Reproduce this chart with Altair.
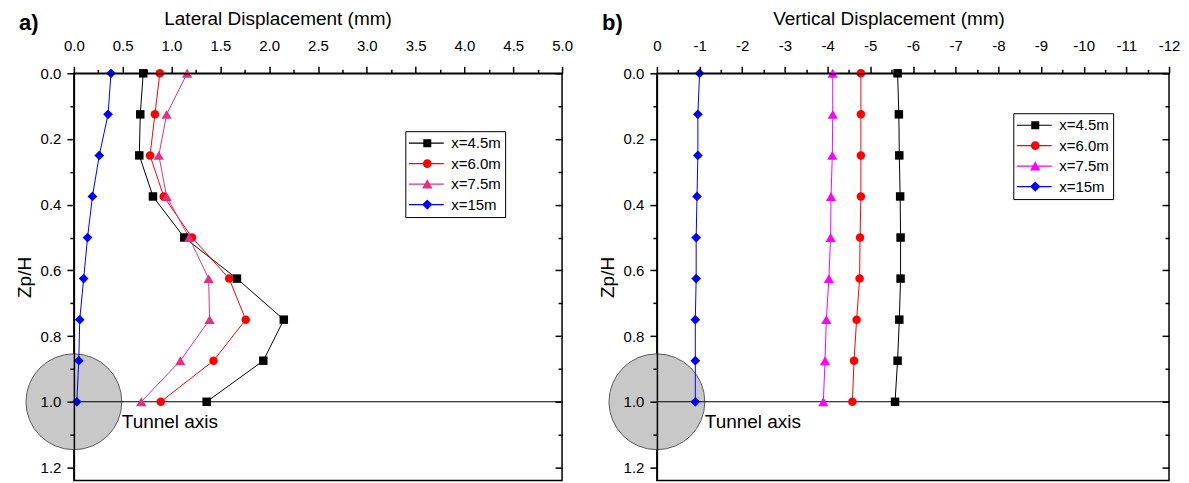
import altair as alt
import pandas as pd
import numpy as np

FONT = "Liberation Sans"

# ---------------- data ----------------
z = [0.0, 0.125, 0.25, 0.375, 0.5, 0.625, 0.75, 0.875, 1.0]
series = ["x=4.5m", "x=6.0m", "x=7.5m", "x=15m"]

# a) lateral displacement (mm)
lat_45 = [0.71, 0.68, 0.67, 0.81, 1.13, 1.67, 2.15, 1.94, 1.36]
lat_60 = [0.88, 0.83, 0.78, 0.92, 1.21, 1.59, 1.76, 1.43, 0.89]
lat_75 = [1.16, 0.95, 0.87, 0.95, 1.18, 1.38, 1.39, 1.09, 0.69]
lat_15 = [0.38, 0.35, 0.26, 0.19, 0.14, 0.10, 0.06, 0.05, 0.03]

# b) vertical displacement (mm)
ver_45 = [-5.64, -5.67, -5.68, -5.70, -5.71, -5.71, -5.68, -5.64, -5.58]
ver_60 = [-4.78, -4.78, -4.78, -4.78, -4.76, -4.75, -4.68, -4.62, -4.58]
ver_75 = [-4.12, -4.12, -4.11, -4.08, -4.07, -4.03, -3.97, -3.94, -3.90]
ver_15 = [-1.00, -0.96, -0.96, -0.94, -0.92, -0.92, -0.90, -0.90, -0.90]

tunnel_x = [0.0]
tunnel_z = [1.0]
tunnel_label = ["Tunnel axis"]

left_ticks = [float(round(v, 2)) for v in np.arange(0, 5.001, 0.25)]
right_ticks = [float(round(-v, 1)) for v in np.arange(0, 12.001, 0.5)]
y_ticks = [float(round(v, 1)) for v in np.arange(0, 1.201, 0.1)]

colors_a = ["#000000", "#FF0000", "#E5307E", "#0000FF"]
colors_b = ["#000000", "#FF0000", "#FF00FF", "#0000FF"]
plot_shapes = ["square", "circle", "triangle-up", "diamond"]
plot_sizes = [72, 72, 105, 95]

# legend symbols: line segment + marker (unit = sqrt(symbolSize)/2 px)
LINE = "M-1.06,-0.07L3.31,-0.07L3.31,0.07L-1.06,0.07Z"
legend_paths = [
    LINE + "M0.75,-0.5L1.75,-0.5L1.75,0.5L0.75,0.5Z",
    LINE + "M0.7,0A0.55,0.55 0 1,1 1.8,0A0.55,0.55 0 1,1 0.7,0Z",
    LINE + "M1.25,-0.6L1.9,0.55L0.6,0.55Z",
    LINE + "M0.6,0L1.25,-0.65L1.9,0L1.25,0.65Z",
]

YMAX = 1.24
HEIGHT = 408


def make_panel(vals_list, colors, xdomain, xvals, minor_x_test, x_label_expr,
               xtitle, title_x, letter, legend_x, legend_y, width):
    rows = []
    for s, vals in zip(series, vals_list):
        for zz, v in zip(z, vals):
            rows.append({"series": s, "d": v, "z": zz})
    df = pd.DataFrame(rows)
    tun = pd.DataFrame({"d": tunnel_x, "z": tunnel_z, "label": tunnel_label})

    xscale = alt.Scale(domain=xdomain, nice=False, zero=False)
    yscale = alt.Scale(domain=[0, YMAX], nice=False, zero=False, reverse=True)

    minor_y_test = "round(datum.value*10) % 2 != 0"

    x_axis = alt.Axis(
        orient="top", values=xvals, labelExpr=x_label_expr, title=xtitle,
        tickSize=7, labelPadding=13, titlePadding=10, titleX=title_x,
        tickDash={"condition": {"test": minor_x_test, "value": [4, 10]}, "value": [10, 0]},
        labelFlush=False, labelOverlap=False, zindex=1,
    )
    y_axis = alt.Axis(
        orient="left", values=y_ticks,
        labelExpr="round(datum.value*10) % 2 == 0 ? format(datum.value, '.1f') : ''",
        title="Zp/H", tickSize=7, labelPadding=6, titlePadding=6,
        tickDash={"condition": {"test": minor_y_test, "value": [4, 10]}, "value": [10, 0]},
        labelFlush=False, labelOverlap=False, zindex=1,
    )
    y_axis_right = alt.Axis(
        orient="right", values=y_ticks, labels=False, domain=False, title=None,
        tickSize=7, offset=-7, zindex=1,
        tickDash={"condition": {"test": minor_y_test, "value": [0, 3, 4]}, "value": [10, 0]},
    )

    X = alt.X("d:Q", scale=xscale, axis=x_axis)
    Y = lambda ax: alt.Y("z:Q", scale=yscale, axis=ax)

    circle = alt.Chart(tun).mark_point(
        shape="circle", filled=True, size=9216, fill="#c8c8c8",
        stroke="#5a5a5a", strokeWidth=1, opacity=1,
    ).encode(x=X, y=Y(y_axis))

    rule = alt.Chart(tun).mark_rule(color="black", strokeWidth=1.2).encode(
        x=alt.value(0), x2=alt.value(width), y=Y(y_axis_right)
    )

    layers = [circle, rule]
    for s, c in zip(series, colors):
        sub = df[df["series"] == s]
        layers.append(
            alt.Chart(sub).mark_line(color=c, strokeWidth=1).encode(
                x=X, y=Y(None), order="z:Q"
            )
        )
    for s, c, shp, sz in zip(series, colors, plot_shapes, plot_sizes):
        sub = df[df["series"] == s]
        layers.append(
            alt.Chart(sub).mark_point(
                shape=shp, filled=True, size=sz, color=c, opacity=1
            ).encode(x=X, y=Y(None))
        )

    tunnel_text = alt.Chart(tun).mark_text(
        align="left", baseline="middle", dx=48, dy=20, fontSize=19,
        font=FONT, color="black",
    ).encode(x=X, y=Y(None), text="label:N")
    layers.append(tunnel_text)

    letter_text = alt.Chart(tun).mark_text(
        text=letter, align="left", baseline="top", fontSize=22,
        fontWeight="bold", font=FONT, color="black",
    ).encode(x=alt.value(-55), y=alt.value(-60))
    layers.append(letter_text)

    leg = alt.Legend(
        orient="none", legendX=legend_x, legendY=legend_y, title=None,
        labelFont=FONT, labelFontSize=15, labelColor="black",
        symbolSize=256, symbolStrokeWidth=0, labelOffset=26,
        padding=4, rowPadding=4.5, strokeColor="black", fillColor="white",
    )
    legend_layer = alt.Chart(df).transform_filter("false").mark_point(
        filled=True, opacity=1
    ).encode(
        x=X, y=Y(None),
        color=alt.Color("series:N", scale=alt.Scale(domain=series, range=colors), legend=leg),
        shape=alt.Shape("series:N", scale=alt.Scale(domain=series, range=legend_paths), legend=leg),
    )
    layers.append(legend_layer)

    return alt.layer(*layers).resolve_axis(y="independent").properties(
        width=width, height=HEIGHT
    )


left = make_panel(
    [lat_45, lat_60, lat_75, lat_15], colors_a, [0, 5.0], left_ticks,
    "datum.value % 0.5 != 0",
    "datum.value % 0.5 == 0 ? format(datum.value, '.1f') : ''",
    "Lateral Displacement (mm)", 204, "a)", 332, 58, 489,
)
right = make_panel(
    [ver_45, ver_60, ver_75, ver_15], colors_b, [0, -12], right_ticks,
    "datum.value % 1 != 0",
    "datum.value % 1 == 0 ? '' + datum.value : ''",
    "Vertical Displacement (mm)", 232, "b)", 357, 40, 513,
)

chart = alt.hconcat(left, right, spacing=23).resolve_scale(
    color="independent", shape="independent"
).resolve_legend(color="independent", shape="independent").properties(
    padding={"left": 6, "top": 0, "right": 0, "bottom": 0}
).configure_view(
    stroke="black", strokeWidth=1.5
).configure_axis(
    labelFont=FONT, titleFont=FONT, labelFontSize=15, titleFontSize=19,
    labelColor="black", titleColor="black", tickColor="black",
    domainColor="black", tickWidth=1.5, domainWidth=1.5, grid=False,
    titleFontWeight="normal",
)

chart.save("out.html", embed_options={"renderer": "svg", "actions": False})
